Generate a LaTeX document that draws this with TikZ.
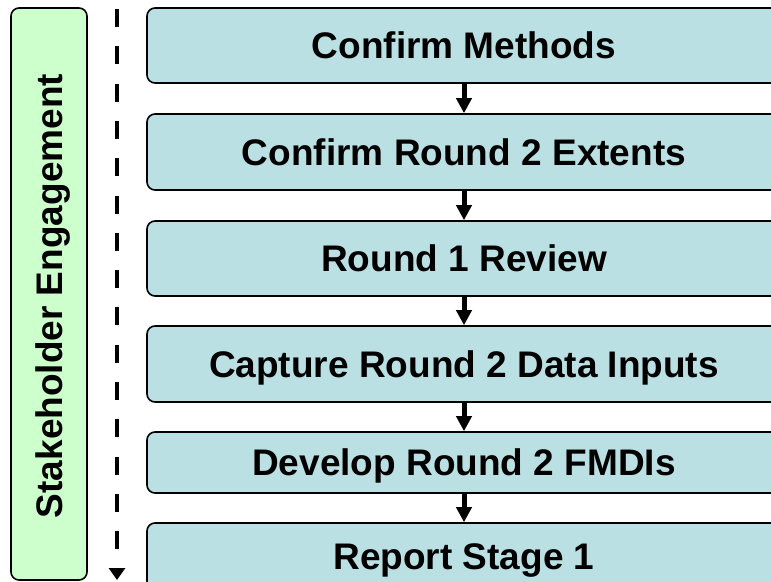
\documentclass[tikz,border=0pt]{standalone}
\usepackage{fontspec}
\setmainfont{Liberation Sans}
\usetikzlibrary{arrows.meta}
\definecolor{stepfill}{RGB}{187,224,227}
\definecolor{sidefill}{RGB}{204,255,204}
\tikzset{
  x=1pt, y=-1pt,
  label font/.style={font=\fontsize{37}{44}\selectfont\bfseries,
    text height=26.5pt, text depth=0pt},
  stepbox/.style={draw=black, line width=1.6pt, fill=stepfill, rounded corners=8pt,
    minimum width=634pt, inner sep=0pt, label font},
  sidebar/.style={draw=black, line width=1.6pt, fill=sidefill, rounded corners=8pt,
    minimum width=76pt, minimum height=572pt, inner sep=0pt},
  flow/.style={line width=5pt, -{Triangle[width=15pt,length=15pt]}},
  timeline/.style={line width=4.6pt, dash pattern=on 18pt off 19.3pt,
    -{Triangle[width=16pt,length=12pt]}}
}
\begin{document}
\begin{tikzpicture}
\useasboundingbox (0,0) rectangle (771,581);
\clip (0,0) rectangle (771,581);

% side bar for the continuous activity
\node[sidebar] (side) at (49,294) {};
\node[label font, inner sep=0pt, rotate=90] (sidetext) at (49,296) {Stakeholder Engagement};

% dashed time line
\coordinate (tlstart) at (117,9);
\coordinate (tlend) at (117,580);
\draw[timeline] (tlstart) -- (tlend);

% process steps
\node[stepbox, minimum height=75pt] (s1) at (464,45.5) {Confirm Methods};
\node[stepbox, minimum height=76pt] (s2) at (464,152) {Confirm Round 2 Extents};
\node[stepbox, minimum height=75pt] (s3) at (464,258.5) {Round 1 Review};
\node[stepbox, minimum height=76pt] (s4) at (464,364) {Capture Round 2 Data Inputs};
\node[stepbox, minimum height=61pt] (s5) at (464,462.5) {Develop Round 2 FMDIs};
\node[stepbox, minimum height=66pt] (s6) at (464,556) {Report Stage 1};

% connectors between steps
\draw[flow] (s1.south) -- (s2.north);
\draw[flow] (s2.south) -- (s3.north);
\draw[flow] (s3.south) -- (s4.north);
\draw[flow] (s4.south) -- (s5.north);
\draw[flow] (s5.south) -- (s6.north);
\end{tikzpicture}
\end{document}
